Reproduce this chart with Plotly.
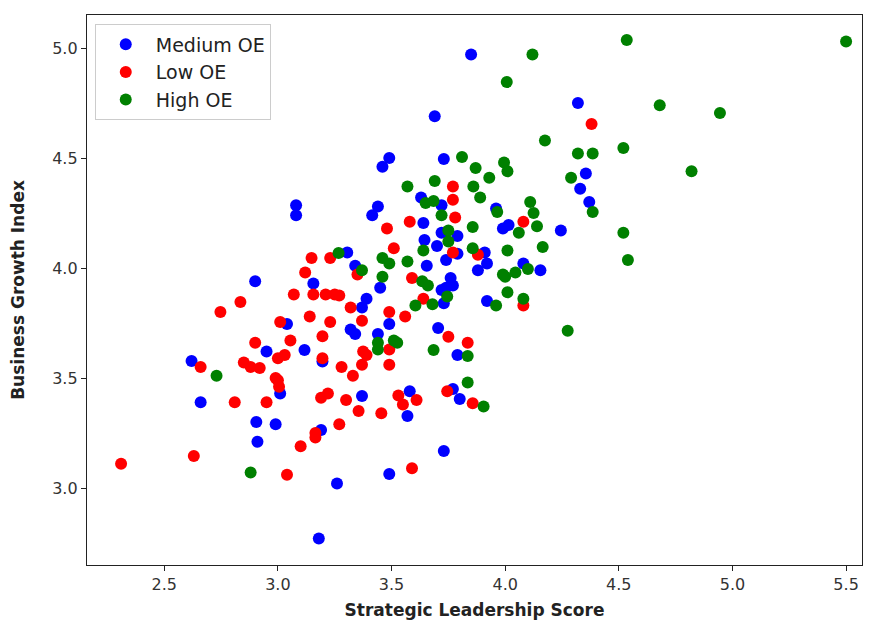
import plotly.graph_objects as go

medium_x = [3.85, 4.32, 3.69, 3.49, 3.46, 3.73, 4.355, 4.33, 4.37, 3.63, 3.44, 3.415, 3.08, 3.08,
            3.72, 3.64, 3.96, 3.99, 4.015, 4.245, 3.72, 3.79, 3.645, 3.70, 3.79, 3.74, 3.91, 3.92,
            3.88, 4.155, 4.08, 3.655, 3.305, 3.34, 3.45, 3.76, 3.77, 3.74, 3.72, 3.92, 3.73, 3.39,
            3.37, 3.49, 3.32, 3.34, 3.44, 3.705, 3.79, 2.90, 3.156, 3.04, 2.95, 3.117, 3.196, 2.62,
            3.01, 2.66, 2.905, 2.99, 2.91, 3.19, 3.26, 3.18, 3.37, 3.58, 3.57, 3.77, 3.80, 3.73, 3.49]
medium_y = [4.97, 4.75, 4.69, 4.50, 4.46, 4.495, 4.43, 4.36, 4.30, 4.32, 4.28, 4.24, 4.285, 4.24,
            4.285, 4.205, 4.27, 4.18, 4.195, 4.17, 4.16, 4.145, 4.127, 4.10, 4.065, 4.036, 4.07, 4.02,
            3.99, 3.99, 4.02, 4.01, 4.07, 4.01, 3.91, 3.955, 3.92, 3.91, 3.90, 3.85, 3.84, 3.86,
            3.82, 3.745, 3.72, 3.70, 3.70, 3.727, 3.605, 3.94, 3.93, 3.745, 3.62, 3.627, 3.575, 3.577,
            3.43, 3.39, 3.30, 3.29, 3.21, 3.264, 3.02, 2.77, 3.418, 3.44, 3.327, 3.45, 3.405, 3.168, 3.064]

low_x = [4.38, 3.77, 3.77, 3.78, 3.58, 3.48, 4.08, 3.51, 3.77, 3.88, 3.35, 3.59, 3.64, 4.08,
         3.25, 3.27, 3.148, 3.23, 3.12, 3.07, 3.156, 3.21, 2.835, 2.747, 3.14, 3.23, 3.01, 2.90,
         3.055, 3.196, 3.03, 3.00, 3.196, 3.28, 2.66, 2.85, 2.88, 2.92, 2.99, 3.32, 3.49, 3.56,
         3.37, 3.49, 3.375, 3.39, 3.33, 3.37, 3.49, 3.75, 3.835, 3.00, 3.005, 2.81, 2.95, 3.19,
         3.22, 3.30, 3.165, 3.165, 3.27, 3.10, 2.31, 2.63, 3.04, 3.355, 3.455, 3.53, 3.55, 3.61,
         3.745, 3.857, 3.59]
low_y = [4.655, 4.37, 4.31, 4.23, 4.21, 4.18, 4.21, 4.09, 4.07, 4.06, 3.97, 3.955, 3.86, 3.83,
         3.88, 3.875, 4.045, 4.045, 3.98, 3.88, 3.88, 3.88, 3.845, 3.80, 3.78, 3.755, 3.755, 3.66,
         3.67, 3.69, 3.605, 3.59, 3.59, 3.55, 3.55, 3.57, 3.55, 3.545, 3.50, 3.82, 3.80, 3.78,
         3.76, 3.63, 3.62, 3.605, 3.51, 3.56, 3.56, 3.687, 3.66, 3.49, 3.46, 3.39, 3.39, 3.41,
         3.43, 3.40, 3.25, 3.23, 3.29, 3.19, 3.11, 3.145, 3.06, 3.35, 3.34, 3.42, 3.38, 3.40,
         3.44, 3.385, 3.09]

high_x = [4.535, 5.50, 4.12, 4.007, 4.68, 4.945, 4.175, 4.52, 4.32, 4.385, 4.29, 4.82, 3.81, 3.87,
          3.995, 4.01, 3.93, 3.57, 3.69, 3.86, 3.89, 4.11, 4.125, 4.14, 3.65, 3.685, 3.72, 3.965,
          4.06, 3.75, 3.75, 3.857, 3.64, 3.857, 4.01, 4.165, 3.99, 4.00, 4.045, 4.10, 4.01, 4.08,
          3.96, 4.275, 4.385, 4.52, 4.54, 3.267, 3.46, 3.49, 3.57, 3.37, 3.46, 3.635, 3.66, 3.745,
          3.605, 3.68, 3.44, 3.44, 3.51, 3.525, 3.685, 3.835, 3.835, 3.905, 2.73, 2.88]
high_y = [5.036, 5.03, 4.97, 4.845, 4.74, 4.705, 4.58, 4.545, 4.52, 4.52, 4.41, 4.44, 4.505, 4.455,
          4.48, 4.44, 4.41, 4.37, 4.395, 4.37, 4.32, 4.30, 4.25, 4.19, 4.295, 4.305, 4.24, 4.255,
          4.16, 4.17, 4.12, 4.186, 4.08, 4.09, 4.08, 4.095, 3.97, 3.96, 3.98, 3.995, 3.89, 3.86,
          3.83, 3.715, 4.255, 4.16, 4.036, 4.068, 4.045, 4.02, 4.03, 3.99, 3.96, 3.94, 3.92, 3.87,
          3.83, 3.835, 3.66, 3.63, 3.67, 3.66, 3.627, 3.60, 3.48, 3.37, 3.51, 3.07]

x_ticks = [2.5, 3.0, 3.5, 4.0, 4.5, 5.0, 5.5]
y_ticks = [3.0, 3.5, 4.0, 4.5, 5.0]

series = [("Medium OE", medium_x, medium_y, "blue"),
          ("Low OE", low_x, low_y, "red"),
          ("High OE", high_x, high_y, "green")]

fig = go.Figure()
for name, xs, ys, col in series:
    fig.add_trace(go.Scatter(x=xs, y=ys, mode="markers", name=name,
                             marker=dict(color=col, size=12, line=dict(width=0))))

axis_common = dict(showgrid=False, zeroline=False, showline=True, linecolor="#222",
                   linewidth=1.3, mirror=True, ticks="outside", ticklen=5, tickwidth=1,
                   tickcolor="#222", automargin=False,
                   tickfont=dict(family="DejaVu Sans", size=16, color="#333"))

# page body has an 8px default margin, so the figure is sized to fit inside it
fig.update_layout(
    width=857, height=612,
    margin=dict(l=79, r=3, t=7, b=55),
    plot_bgcolor="white", paper_bgcolor="white",
    font=dict(family="DejaVu Sans", color="black"),
    xaxis=dict(range=[2.16, 5.57], tickvals=x_ticks, tickformat=".1f",
               title=dict(text="<b>Strategic Leadership Score</b>", font=dict(size=17, color="#222"), standoff=12),
               **axis_common),
    yaxis=dict(range=[2.65, 5.15], tickvals=y_ticks, tickformat=".1f",
               title=dict(text="<b>Business Growth Index</b>", font=dict(size=17, color="#222"), standoff=24),
               **axis_common),
    legend=dict(x=0.01, y=0.983, xanchor="left", yanchor="top", bgcolor="rgba(255,255,255,0.8)",
                bordercolor="#cccccc", borderwidth=1, font=dict(size=19, color="#222"),
                itemsizing="constant", itemwidth=50),
)

fig.write_html("out.html")
